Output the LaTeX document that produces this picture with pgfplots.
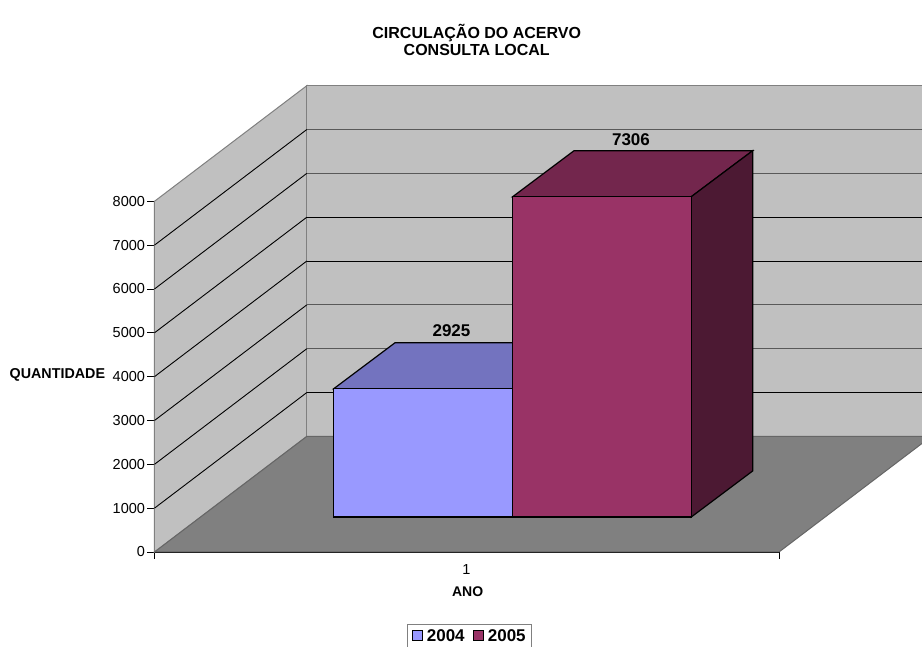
\documentclass[border=0pt]{standalone}
\usepackage{pgfplots}
\pgfplotsset{compat=1.18}
\usepackage{fontspec}
\setmainfont{Liberation Sans}
\definecolor{wall}{HTML}{C0C0C0}
\definecolor{floorc}{HTML}{808080}
\definecolor{aF}{HTML}{9999FF}
\definecolor{aT}{HTML}{7373BF}
\definecolor{bF}{HTML}{993366}
\definecolor{bT}{HTML}{73264D}
\definecolor{bS}{HTML}{4C1933}
\pgfplotsset{
  poly/.style={forget plot,line width=#1,line join=miter},
  grid3d/.style={forget plot,line width=0.9pt,mark=none},
  swatch/.style={legend image code/.code={\draw[#1,line width=1.2pt] (0pt,-5pt) rectangle (10pt,5pt); \path (12pt,0pt);}}
}
\begin{document}
\begin{tikzpicture}[x=1pt,y=1pt]
\path[use as bounding box,clip] (0,0) rectangle (922,647);
\begin{axis}[
  at={(154.5pt,95pt)},anchor=south west,
  scale only axis,width=624.5pt,height=350.7pt,
  xmin=0,xmax=624.5,ymin=0,ymax=8000,clip=false,
  axis x line*=bottom,axis y line*=left,
  axis line style={-,black,line width=1.2pt},
  tick style={black,line width=0.9pt},
  tick align=outside,major tick length=7pt,
  xtick={0,624.5},xticklabels={,},
  extra x ticks={312},extra x tick labels={1},
  extra x tick style={major tick length=0pt,tick style={draw=none}},
  ytick={0,1000,...,8000},
  yticklabel style={font=\fontsize{14.5}{16}\selectfont,xshift=1pt},
  xticklabel style={font=\fontsize{14.5}{16}\selectfont,yshift=-9pt},
  /pgf/number format/assume math mode=true,
  /pgf/number format/1000 sep={},
  xlabel={ANO},
  xlabel style={font=\bfseries\fontsize{14}{16}\selectfont,at={(axis description cs:0.5015,-0.114)},anchor=center},
  ylabel={QUANTIDADE},
  ylabel style={font=\bfseries\fontsize{14.3}{16}\selectfont,rotate=-90,at={(axis description cs:-0.1555,0.505)},anchor=center},
  title={CIRCULAÇÃO DO ACERVO\\CONSULTA LOCAL},
  title style={font=\bfseries\fontsize{16}{17}\selectfont,align=center,at={(axis description cs:0.516,1.442)},anchor=center},
  legend columns=2,
  legend style={at={(axis description cs:0.5047,-0.2044)},anchor=north,draw=floorc,line width=0.9pt,
    font=\bfseries\fontsize{17}{19}\selectfont,inner xsep=4pt,inner ysep=3pt,
    /tikz/every even column/.style={column sep=6pt}},
]
% walls and floor
\addplot[poly=1pt,draw=floorc,fill=wall] coordinates {(0,0)(0,8000)(152.3,10637)(152.3,2637)} -- cycle;
\addplot[poly=1pt,draw=floorc,fill=wall] coordinates {(152.3,2637)(152.3,10637)(800,10637)(800,2637)} -- cycle;
\addplot[poly=1pt,draw=black!60,fill=floorc] coordinates {(0,0)(624.5,0)(776.8,2637)(152.3,2637)} -- cycle;
% gridlines: side wall
\addplot[grid3d,black] coordinates {(0,1000)(152.3,3637)};
\addplot[grid3d,black] coordinates {(0,2000)(152.3,4637)};
\addplot[grid3d,black] coordinates {(0,3000)(152.3,5637)};
\addplot[grid3d,black] coordinates {(0,4000)(152.3,6637)};
\addplot[grid3d,black] coordinates {(0,5000)(152.3,7637)};
\addplot[grid3d,black] coordinates {(0,6000)(152.3,8637)};
\addplot[grid3d,black] coordinates {(0,7000)(152.3,9637)};
% gridlines: back wall
\addplot[grid3d,black] coordinates {(152.3,3637)(800,3637)};
\addplot[grid3d,black!65] coordinates {(152.3,4637)(800,4637)};
\addplot[grid3d,black!65] coordinates {(152.3,5637)(800,5637)};
\addplot[grid3d,black] coordinates {(152.3,6637)(800,6637)};
\addplot[grid3d,black] coordinates {(152.3,7637)(800,7637)};
\addplot[grid3d,black!65] coordinates {(152.3,8637)(800,8637)};
\addplot[grid3d,black!65] coordinates {(152.3,9637)(800,9637)};
% 2004 bar
\addplot[poly=1.2pt,draw=black,fill=aT] coordinates {(179.2,3724)(358.2,3724)(419.6,4774)(240.6,4774)} -- cycle;
\addplot[swatch,line width=1.2pt,draw=black,fill=aF] coordinates {(179.2,799)(358.2,799)(358.2,3724)(179.2,3724)} -- cycle;
\addlegendentry{2004}
% 2005 bar
\addplot[poly=1.2pt,draw=black,fill=bT] coordinates {(358.2,8105)(536.8,8105)(598.2,9155)(419.6,9155)} -- cycle;
\addplot[poly=1.2pt,draw=black,fill=bS] coordinates {(536.8,799)(598.2,1849)(598.2,9155)(536.8,8105)} -- cycle;
\addplot[swatch,line width=1.2pt,draw=black,fill=bF] coordinates {(358.2,799)(536.8,799)(536.8,8105)(358.2,8105)} -- cycle;
\addlegendentry{2005}
% value labels
\addplot[forget plot,draw=none,mark=none,
  nodes near coords,point meta=explicit,
  every node near coord/.append style={font=\bfseries\fontsize{17}{18}\selectfont,anchor=center,
    /pgf/number format/assume math mode=true,/pgf/number format/1000 sep={},fill=none,draw=none}]
  coordinates {(297,5046)[2925] (476.5,9401)[7306]};
\end{axis}
\end{tikzpicture}
\end{document}
